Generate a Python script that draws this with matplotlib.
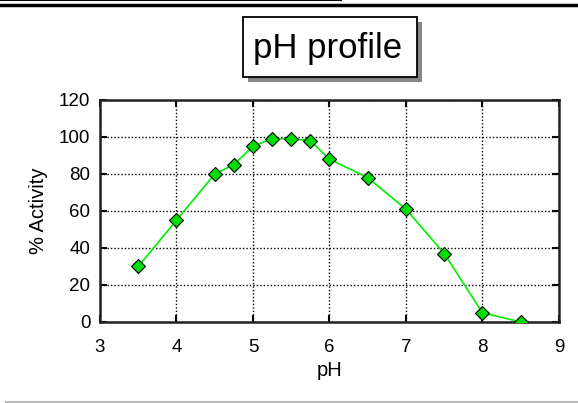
import matplotlib.pyplot as plt
from matplotlib.patches import Rectangle

plt.rcParams['font.family'] = ['Liberation Sans', 'DejaVu Sans']

ph = [3.5, 4, 4.5, 4.75, 5, 5.25, 5.5, 5.75, 6, 6.5, 7, 7.5, 8, 8.5]
activity = [30, 55, 80, 85, 95, 99, 99, 98, 88, 78, 61, 37, 5, 0]
xticks = [3, 4, 5, 6, 7, 8, 9]
yticks = [0, 20, 40, 60, 80, 100, 120]

W, H = 578, 403
fig = plt.figure(figsize=(W / 100, H / 100), dpi=100)
ax = fig.add_axes([0.173, 0.201, 0.794, 0.551])

ax.plot(ph, activity, color='#00ee00', lw=1.2, marker='D', markersize=7,
        markerfacecolor='#00dd00', markeredgecolor='black', markeredgewidth=0.8,
        zorder=3)

ax.set_xlim(3, 9)
ax.set_ylim(0, 120)
ax.set_xticks(xticks)
ax.set_yticks(yticks)
ax.grid(True, color='black', linestyle=(0, (1, 1.5)), linewidth=1)
ax.tick_params(direction='in', length=5, width=1.5, labelsize=13.5,
               top=True, right=True, color='black')
ax.tick_params(axis='x', pad=12)
ax.tick_params(axis='y', pad=7)
for s in ax.spines.values():
    s.set_linewidth(1.8)
    s.set_color('#222222')

ax.set_xlabel('pH', fontsize=14.5, labelpad=4)
ax.set_ylabel('% Activity', fontsize=14.5, labelpad=8)

# boxed title with drop shadow (pixel coords -> figure fraction)
def px_rect(x0, y0, x1, y1, **kw):
    return Rectangle((x0 / W, 1 - y1 / H), (x1 - x0) / W, (y1 - y0) / H,
                     transform=fig.transFigure, **kw)

fig.add_artist(px_rect(248, 22, 422, 82, facecolor='#888888', edgecolor='none'))
fig.add_artist(px_rect(243, 17, 417, 77, facecolor='white', edgecolor='black', linewidth=1.3))
fig.text(327.5 / W, 1 - 58 / H, 'pH profile', fontsize=25, ha='center', va='baseline')

# page decorations: lines at top and bottom
fig.add_artist(plt.Line2D([0, 0.59], [0.999, 0.999], color='black', lw=1.5))
fig.add_artist(plt.Line2D([0, 1], [0.988, 0.988], color='black', lw=2.5))
fig.add_artist(plt.Line2D([0.01, 1], [0.003, 0.003], color='#bbbbbb', lw=1.5))

fig.savefig('out.png', dpi=100)
